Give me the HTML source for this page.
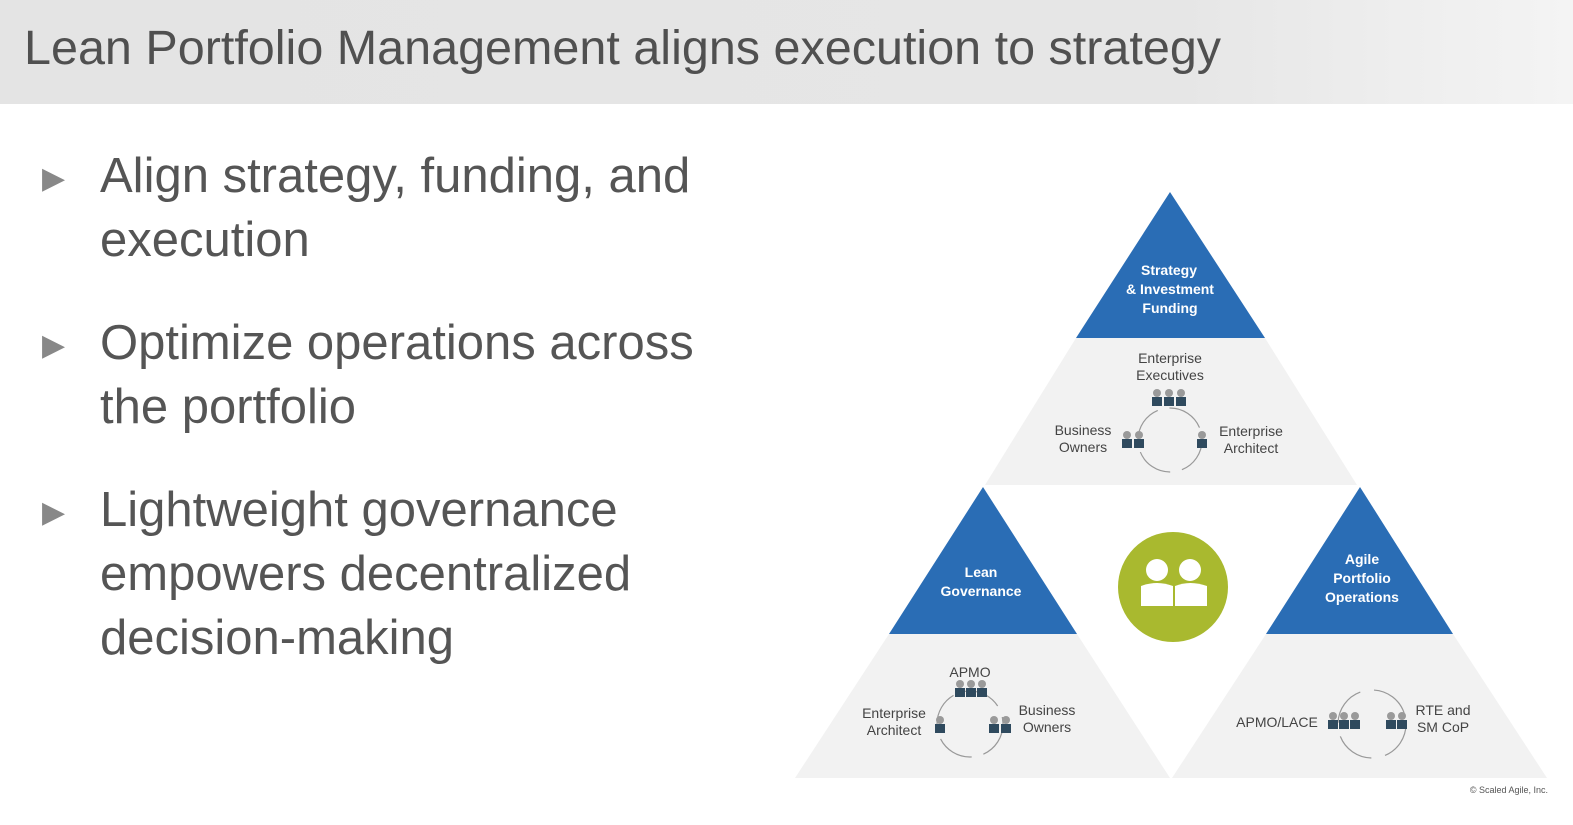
<!DOCTYPE html>
<html><head><meta charset="utf-8"><style>
body{margin:0;width:1573px;height:825px;overflow:hidden;background:#fff;font-family:"Liberation Sans",sans-serif}
.hdr{position:absolute;left:0;top:0;width:1573px;height:104px;background:linear-gradient(90deg,#e4e4e4 0%,#e6e6e6 75%,#f4f4f4 100%)}
.title{position:absolute;left:24px;top:20px;font-size:48.5px;color:#505050;white-space:nowrap}
.b{position:absolute;left:100px;font-size:49px;line-height:64px;color:#555;white-space:nowrap}
.m{position:absolute;left:42px;font-size:30px;color:#888}
svg{position:absolute;left:0;top:0}
</style></head><body>
<div class="hdr"></div>
<div class="title">Lean Portfolio Management aligns execution to strategy</div>
<div class="m" style="top:161px">▶</div>
<div class="b" style="top:144px">Align strategy, funding, and<br>execution</div>
<div class="m" style="top:328px">▶</div>
<div class="b" style="top:311px">Optimize operations across<br>the portfolio</div>
<div class="m" style="top:495px">▶</div>
<div class="b" style="top:478px">Lightweight governance<br>empowers decentralized<br>decision-making</div>
<svg width="1573" height="825" font-family="Liberation Sans, sans-serif">
<defs>
<g id="p"><circle cx="0" cy="-6" r="4" fill="#9a9a9a"/><rect x="-5" y="-2" width="10" height="9" fill="#2f4a5e"/></g>
</defs>
<polygon points="1076,338 1265,338 1357,485 985,485" fill="#f2f2f2"/>
<polygon points="1170,192 1265,338 1076,338" fill="#2a6db5"/>
<polygon points="889,634 1077,634 1170,778 795,778" fill="#f2f2f2"/>
<polygon points="983,487 1077,634 889,634" fill="#2a6db5"/>
<polygon points="1266,634 1453,634 1547,778 1172,778" fill="#f2f2f2"/>
<polygon points="1360,487 1453,634 1266,634" fill="#2a6db5"/>
<g fill="#fff" font-weight="bold" font-size="14" text-anchor="middle">
<text x="1169" y="275">Strategy</text><text x="1170" y="294">&amp; Investment</text><text x="1170" y="313">Funding</text>
<text x="981" y="577">Lean</text><text x="981" y="596">Governance</text>
<text x="1362" y="564">Agile</text><text x="1362" y="583">Portfolio</text><text x="1362" y="602">Operations</text>
</g>
<circle cx="1173" cy="587" r="55" fill="#a9b92f"/>
<g fill="#fff"><circle cx="1157" cy="570" r="11"/><path d="M1141 606 v-20 q16 -6 32 0 v20z"/><circle cx="1190" cy="570" r="11"/><path d="M1175 606 v-20 q15 -6 32 0 v20z"/></g>
<g fill="none" stroke="#999" stroke-width="1.2">
<circle cx="1170" cy="440" r="32" stroke-dasharray="38 12"/>
<circle cx="970" cy="724" r="33" stroke-dasharray="38 12"/>
<circle cx="1372" cy="724" r="34" stroke-dasharray="40 14"/>
</g>
<g font-size="14" fill="#444" text-anchor="middle">
<text x="1170" y="363">Enterprise</text><text x="1170" y="380">Executives</text>
<text x="1083" y="435">Business</text><text x="1083" y="452">Owners</text>
<text x="1251" y="436">Enterprise</text><text x="1251" y="453">Architect</text>
<text x="970" y="677">APMO</text>
<text x="894" y="718">Enterprise</text><text x="894" y="735">Architect</text>
<text x="1047" y="715">Business</text><text x="1047" y="732">Owners</text>
<text x="1277" y="727">APMO/LACE</text>
<text x="1443" y="715">RTE and</text><text x="1443" y="732">SM CoP</text>
</g>
<use href="#p" x="1157" y="399"/><use href="#p" x="1169" y="399"/><use href="#p" x="1181" y="399"/>
<use href="#p" x="1127" y="441"/><use href="#p" x="1139" y="441"/><use href="#p" x="1202" y="441"/>
<use href="#p" x="960" y="690"/><use href="#p" x="971" y="690"/><use href="#p" x="982" y="690"/>
<use href="#p" x="940" y="726"/><use href="#p" x="994" y="726"/><use href="#p" x="1006" y="726"/>
<use href="#p" x="1333" y="722"/><use href="#p" x="1344" y="722"/><use href="#p" x="1355" y="722"/>
<use href="#p" x="1391" y="722"/><use href="#p" x="1402" y="722"/>
<text x="1548" y="793" font-size="9" fill="#555" text-anchor="end">© Scaled Agile, Inc.</text>
</svg>
</body></html>
